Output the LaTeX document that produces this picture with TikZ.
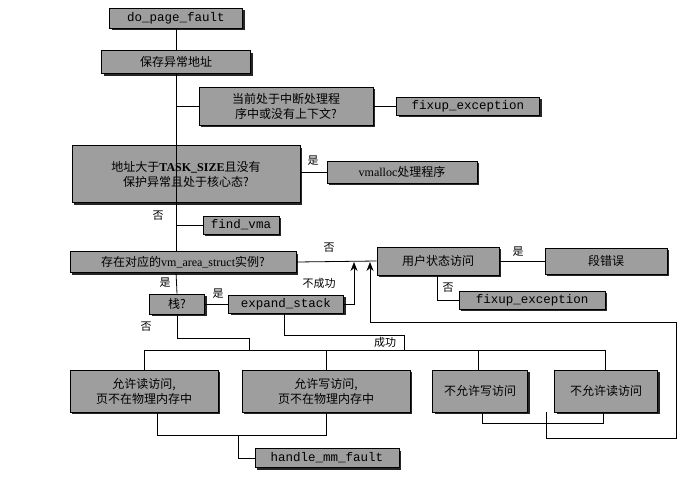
\documentclass[tikz,border=0pt]{standalone}
\usepackage{fontspec}
\setmainfont{Liberation Serif}
\newfontfamily\cjk{Noto Sans CJK SC}
\newfontfamily\code{Liberation Mono}
\usetikzlibrary{shadows,arrows.meta}
\begin{document}
\begin{tikzpicture}[x=1pt,y=-1pt,
  bx/.style={draw=black,fill=black!38,line width=0.8pt,inner sep=1pt,align=center,
    font=\cjk\fontsize{12}{15}\selectfont,
    general shadow={shadow xshift=2.2pt,shadow yshift=-2.2pt,fill=black!85}},
  cd/.style={bx,font=\code\fontsize{12.5}{14}\selectfont},
  ln/.style={line width=0.8pt},
  lb/.style={font=\cjk\fontsize{11}{13}\selectfont},
  ar/.style={ln,-{Stealth[length=9pt,width=7pt]}}]
\useasboundingbox (0,0) rectangle (700,477);
\node[cd,minimum width=133pt,minimum height=20pt] (dpf) at (176,18) {do\_page\_fault};
\node[bx,minimum width=149pt,minimum height=23pt] (save) at (176,62) {保存异常地址};
\node[bx,minimum width=174pt,minimum height=38pt] (intr) at (286,106) {当前处于中断处理程\\序中或没有上下文?};
\node[cd,minimum width=143pt,minimum height=18pt] (fix1) at (468,106) {fixup\_exception};
\node[bx,minimum width=228pt,minimum height=57pt] (addr) at (186,174) {地址大于{\rmfamily\bfseries TASK\_SIZE}且没有\\保护异常且处于核心态?};
\node[bx,minimum width=150pt,minimum height=22pt] (vmal) at (402,172) {{\rmfamily vmalloc}处理程序};
\node[cd,minimum width=76pt,minimum height=18pt] (fvma) at (241,225) {find\_vma};
\node[bx,minimum width=226pt,minimum height=21pt] (exist) at (183,262) {存在对应的{\rmfamily vm\_area\_struct}实例?};
\node[bx,minimum width=122pt,minimum height=28pt] (user) at (438,261) {用户状态访问};
\node[bx,minimum width=122pt,minimum height=26pt] (seg) at (606,261) {段错误};
\node[cd,minimum width=146pt,minimum height=18pt] (fix2) at (532,300) {fixup\_exception};
\node[bx,minimum width=55pt,minimum height=20pt] (stack) at (177,304) {栈?};
\node[cd,minimum width=115pt,minimum height=18pt] (exp) at (286,304) {expand\_stack};
\node[bx,minimum width=148pt,minimum height=42pt] (b1) at (144,391) {允许读访问,\\页不在物理内存中};
\node[bx,minimum width=168pt,minimum height=42pt] (b2) at (326,391) {允许写访问,\\页不在物理内存中};
\node[bx,minimum width=95pt,minimum height=42pt] (b3) at (480,391) {不允许写访问};
\node[bx,minimum width=103pt,minimum height=42pt] (b4) at (606,391) {不允许读访问};
\node[cd,minimum width=144pt,minimum height=19pt] (hmm) at (327,458) {handle\_mm\_fault};
% main spine
\draw[ln] (dpf.south) -- (save.north);
\draw[ln] (save.south) -- (save.south |- exist.north);
\draw[ln] (176,106) -- (intr.west);
\draw[ln] (intr.east) -- (fix1.west);
\draw[ln] (addr.east |- vmal.west) -- (vmal.west);
\node[lb] (l1) at (313,161) {是};
\draw[ln] (176,225) -- (fvma.west);
\node[lb] (l2) at (158,216) {否};
% exist branches
\coordinate (a1) at (354,262);
\coordinate (a2) at (370,262);
\draw[ln] (exist.east) -- (user.west);
\node[lb] (l3) at (329,248) {否};
\draw[ln] (user.east) -- (seg.west);
\node[lb] (l4) at (518,252) {是};
\draw[ln] (437,275) |- (fix2.west);
\node[lb] (l5) at (448,288) {否};
\draw[ln] (176,272) -- (stack.north);
\node[lb] (l6) at (165,283) {是};
\draw[ln] (stack.east) -- (exp.west);
\node[lb] (l7) at (218,294) {是};
\draw[ar] (exp.east) -| (a1);
\node[lb] (l8) at (319,283) {不成功};
% bus
\draw[ln] (stack.south) |- (249,338) -- (249,350);
\node[lb] (l9) at (146,327) {否};
\draw[ln] (284,313) |- (404,335) -- (404,350);
\node[lb] (l10) at (385,342) {成功};
\draw[ln] (144,350) -- (605,350);
\draw[ln] (144,350) -- (b1.north);
\draw[ln] (326,350) -- (b2.north);
\draw[ln] (478,350) -- (478,370);
\draw[ln] (605,350) -- (605,370);
% bottom
\draw[ln] (157,412) |- (326,435) -- (326,412);
\draw[ln] (238,435) |- (hmm.west);
\draw[ln] (482,412) |- (603,423) -- (603,412);
\draw[ar] (546,412) |- (676,438) |- (370,322) -- (a2);
\end{tikzpicture}
\end{document}
